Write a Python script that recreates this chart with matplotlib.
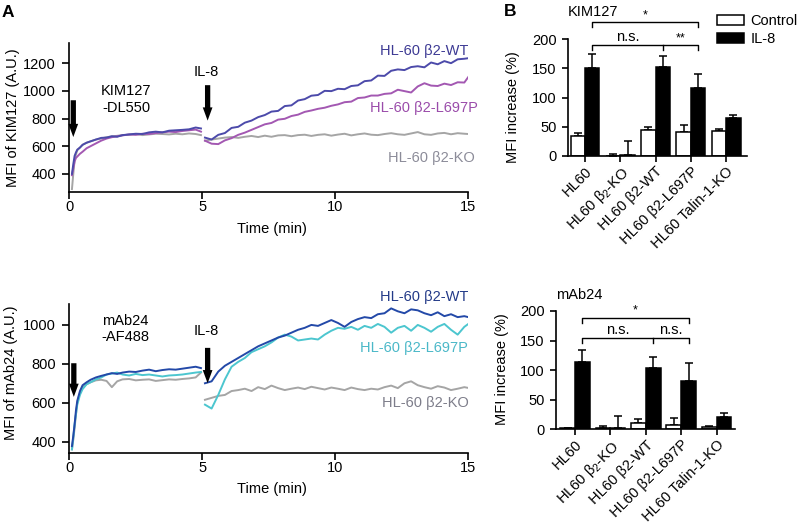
import numpy as np
import matplotlib
matplotlib.use('Agg')
import matplotlib.pyplot as plt
from matplotlib.patches import Patch

plt.rcParams['font.family'] = ['Liberation Sans', 'DejaVu Sans']
plt.rcParams['mathtext.fontset'] = 'custom'
plt.rcParams['mathtext.rm'] = 'Liberation Sans'
plt.rcParams['mathtext.it'] = 'Liberation Sans:italic'
plt.rcParams['axes.linewidth'] = 1.2

# ---- time courses (min) ----
t_pre = [0.1, 0.15, 0.2, 0.25, 0.3, 0.4, 0.5, 0.65, 0.8, 1.0, 1.2, 1.4, 1.6, 1.8,
         2.0, 2.25, 2.5, 2.75, 3.0, 3.25, 3.5, 3.75, 4.0, 4.25, 4.5, 4.75, 4.95]
t_post = [5.1, 5.35, 5.6, 5.85, 6.1, 6.35, 6.6, 6.85, 7.1, 7.35, 7.6, 7.85, 8.1, 8.35,
          8.6, 8.85, 9.1, 9.35, 9.6, 9.85, 10.1, 10.35, 10.6, 10.85, 11.1, 11.35, 11.6,
          11.85, 12.1, 12.35, 12.6, 12.85, 13.1, 13.35, 13.6, 13.85, 14.1, 14.35, 14.6,
          14.85, 15.0]

# KIM127 (top)
kim_wt_pre = [400, 470, 530, 555, 575, 590, 610, 625, 635, 648, 660, 662, 672, 668,
              680, 685, 690, 688, 700, 705, 700, 712, 715, 718, 722, 735, 728]
kim_mut_pre = [390, 440, 490, 515, 525, 545, 560, 585, 600, 620, 640, 655, 665, 672,
               678, 685, 682, 690, 688, 695, 700, 705, 702, 710, 715, 720, 705]
kim_ko_pre = [290, 400, 500, 540, 570, 590, 610, 625, 635, 648, 655, 665, 670, 675,
              680, 682, 688, 680, 685, 690, 688, 685, 690, 686, 692, 688, 680]
kim_wt_post = [662, 648, 682, 695, 732, 740, 770, 785, 810, 825, 850, 855, 890, 895,
               930, 940, 965, 970, 1000, 998, 1015, 1012, 1035, 1040, 1070, 1075, 1110,
               1108, 1145, 1155, 1150, 1172, 1178, 1170, 1205, 1192, 1215, 1200, 1228,
               1232, 1236]
kim_mut_post = [640, 618, 615, 642, 658, 682, 698, 718, 738, 758, 768, 792, 798, 818,
                828, 848, 858, 870, 878, 892, 902, 918, 922, 948, 952, 966, 966, 978,
                982, 1008, 998, 988, 1032, 1055, 1038, 1035, 1052, 1042, 1062, 1060, 1100]
kim_ko_post = [640, 648, 655, 662, 666, 660, 668, 674, 666, 676, 668, 678, 680, 672,
               680, 683, 674, 682, 686, 676, 684, 690, 678, 686, 692, 683, 680, 688,
               694, 686, 682, 692, 702, 686, 682, 692, 696, 686, 694, 690, 688]

# mAb24 (bottom)
mab_wt_pre = [377, 430, 490, 560, 610, 660, 690, 705, 718, 730, 738, 745, 752, 748,
              755, 760, 758, 765, 770, 762, 768, 772, 770, 775, 780, 785, 778]
mab_mut_pre = [360, 420, 490, 540, 590, 640, 670, 695, 705, 720, 730, 745, 750, 755,
               745, 740, 748, 742, 745, 740, 735, 740, 742, 745, 750, 755, 758]
mab_ko_pre = [360, 410, 470, 540, 600, 650, 680, 695, 705, 715, 718, 712, 680, 710,
              720, 722, 715, 718, 720, 712, 716, 720, 718, 722, 725, 730, 755]
mab_wt_post = [700, 710, 760, 790, 810, 830, 850, 870, 890, 905, 920, 935, 945, 960,
               975, 985, 1000, 995, 1010, 1025, 1010, 990, 1015, 1030, 1040, 1035, 1055,
               1060, 1085, 1070, 1060, 1080, 1075, 1060, 1050, 1065, 1045, 1055, 1040,
               1045, 1040]
mab_mut_post = [590, 570, 640, 720, 785, 810, 830, 860, 875, 890, 910, 935, 950, 940,
                920, 925, 930, 925, 950, 970, 985, 980, 990, 975, 995, 985, 1005, 990,
                960, 985, 995, 970, 1000, 985, 965, 990, 1005, 975, 950, 990, 1005]
mab_ko_post = [615, 625, 635, 640, 660, 665, 672, 660, 680, 670, 688, 675, 665, 672,
               678, 670, 682, 675, 668, 678, 672, 665, 678, 670, 665, 672, 668, 680,
               688, 675, 700, 710, 690, 680, 672, 685, 678, 665, 672, 680, 676]

# ---- bar data (% MFI increase) ----
cats = ['HL60', r'HL60 β$_2$-KO', 'HL60 β2-WT', 'HL60 β2-L697P', 'HL60 Talin-1-KO']
kim_ctrl = [35, 0.5, 44, 41, 42]
kim_ctrl_err = [4, 3.5, 5, 12, 5]
kim_il8 = [151, 1, 153, 117, 65]
kim_il8_err = [24, 25, 19, 24, 5]
mab_ctrl = [2, 1.5, 10, 8, 4]
mab_ctrl_err = [1, 4, 7, 11, 1.5]
mab_il8 = [114, 3, 104, 82, 20]
mab_il8_err = [20, 20, 19, 30, 7]

fig = plt.figure(figsize=(8, 5.29), dpi=100)


def time_panel(ax, series, labels, ylim, yticks, ylabel, ylab_x, ylab_y, note, note_pos,
               il8_pos, arrows):
    for tp, vp, tq, vq, c in series:
        ax.plot(tp, vp, color=c, lw=1.4)
        ax.plot(tq, vq, color=c, lw=1.4)
    ax.set_xlim(0, 15)
    ax.set_ylim(*ylim)
    ax.set_xticks([0, 5, 10, 15])
    ax.set_yticks(yticks)
    for s in ['top', 'right']:
        ax.spines[s].set_visible(False)
    ax.tick_params(axis='x', direction='out', length=5, width=1.2, labelsize=10.5, pad=1)
    ax.tick_params(axis='y', direction='out', length=5, width=1.2, labelsize=10.5, pad=4.5)
    ax.set_xlabel('Time (min)', fontsize=10.5)
    ax.xaxis.set_label_coords(0.507, -0.2)
    ax.set_ylabel(ylabel, fontsize=10.5)
    ax.yaxis.set_label_coords(ylab_x, ylab_y)
    for txt, x, v, c in labels:
        ax.text(x, v, txt, color=c, fontsize=10.5, ha='right', va='center',
                clip_on=False)
    ax.text(note_pos[0], note_pos[1], note, fontsize=10.5, ha='center', va='center',
            multialignment='center', linespacing=1.25)
    ax.text(il8_pos[0], il8_pos[1], 'IL-8', fontsize=10.5, ha='center', va='center')
    for t, tail, tip in arrows:
        ax.annotate('', xy=(t, tip), xytext=(t, tail), annotation_clip=False,
                    arrowprops=dict(arrowstyle='simple,head_length=0.95,head_width=0.7,tail_width=0.38',
                                    fc='black', ec='black', lw=0, shrinkA=0, shrinkB=0,
                                    mutation_scale=10))


def bar_panel(ax, ctrl, ctrl_err, il8, il8_err, w, xlim, title, title_y, ylab_x, ylab_y,
              star_y, ns_y, ns_labels):
    x = np.arange(len(cats))
    ax.bar(x - w / 2, ctrl, w, color='white', edgecolor='black', lw=1.1, zorder=2)
    ax.bar(x + w / 2, il8, w, color='black', edgecolor='black', lw=1.1, zorder=2)
    ax.errorbar(x - w / 2, ctrl, yerr=[np.zeros(len(x)), ctrl_err], fmt='none',
                ecolor='black', elinewidth=1.1, capsize=3, capthick=1.1, zorder=1)
    ax.errorbar(x + w / 2, il8, yerr=[np.zeros(len(x)), il8_err], fmt='none',
                ecolor='black', elinewidth=1.1, capsize=3, capthick=1.1, zorder=1)
    ax.set_xlim(*xlim)
    ax.set_ylim(0, 200)
    ax.set_yticks([0, 50, 100, 150, 200])
    ax.set_xticks(x)
    ax.set_xticklabels(cats, rotation=45, ha='right', rotation_mode='anchor',
                       fontsize=10.5)
    for s in ['top', 'right']:
        ax.spines[s].set_visible(False)
    ax.tick_params(direction='out', length=4, width=1.2, labelsize=10.5, pad=2)
    ax.tick_params(axis='y', pad=4)
    ax.set_ylabel('MFI increase (%)', fontsize=10.5)
    ax.yaxis.set_label_coords(ylab_x, ylab_y)
    ax.text(0.0, title_y, title, transform=ax.transAxes, fontsize=10.5, va='center')
    # significance brackets (between IL-8 bars)
    xa, xb, xc = 0 + w / 2, 2 + w / 2, 3 + w / 2
    d = 8.5
    ax.plot([xa, xa, xc, xc], [star_y - d, star_y, star_y, star_y - d], color='black',
            lw=1.0, clip_on=False)
    ax.text((xa + xc) / 2, star_y + 2, '*', ha='center', va='bottom', fontsize=9)
    ax.plot([xa, xa, xc, xc], [ns_y - d, ns_y, ns_y, ns_y - d], color='black', lw=1.0,
            clip_on=False)
    ax.plot([xb, xb], [ns_y, ns_y - d], color='black', lw=1.0, clip_on=False)
    ax.text((xa + xb) / 2, ns_y + 2, ns_labels[0], ha='center', va='bottom',
            fontsize=10.5)
    ax.text((xb + xc) / 2, ns_y + 2, ns_labels[1], ha='center', va='bottom',
            fontsize=10.5 if ns_labels[1] == 'n.s.' else 9)


grey = '#a5a5a5'

# A top: KIM127
ax1 = fig.add_axes([69.3 / 800, 1 - 191.7 / 529, 399 / 800, 149 / 529])
time_panel(ax1,
           [(t_pre, kim_ko_pre, t_post, kim_ko_post, grey),
            (t_pre, kim_mut_pre, t_post, kim_mut_post, '#a358b2'),
            (t_pre, kim_wt_pre, t_post, kim_wt_post, '#4c4aaa')],
           [('HL-60 β2-WT', 15.0, 1285, '#3d3a94'),
            ('HL-60 β2-L697P', 15.35, 874, '#9a4caa'),
            ('HL-60 β2-KO', 15.25, 518, '#8c8c99')],
           (271, 1348), [400, 600, 800, 1000, 1200], 'MFI of KIM127 (A.U.)',
           -0.124, 0.5, 'KIM127\n-DL550', (2.15, 940), (5.13, 1133),
           [(0.15, 932, 666), (5.2, 1041, 785)])

# A bottom: mAb24
ax2 = fig.add_axes([69.3 / 800, 1 - 452.7 / 529, 399 / 800, 148.4 / 529])
time_panel(ax2,
           [(t_pre, mab_ko_pre, t_post, mab_ko_post, grey),
            (t_pre, mab_mut_pre, t_post, mab_mut_post, '#4cc6cf'),
            (t_pre, mab_wt_pre, t_post, mab_wt_post, '#2349a8')],
           [('HL-60 β2-WT', 15.0, 1144, '#233a88'),
            ('HL-60 β2-L697P', 15.0, 879, '#4bb8c8'),
            ('HL-60 β2-KO', 15.0, 598, '#7d7d8a')],
           (343, 1106), [400, 600, 800, 1000], 'MFI of mAb24 (A.U.)',
           -0.128, 0.537, 'mAb24\n-AF488', (2.1, 979), (5.15, 968),
           [(0.17, 803, 630), (5.2, 882, 700)])

# B top: KIM127 bars
ax3 = fig.add_axes([567.7 / 800, 1 - 156 / 529, 179 / 800, 116.7 / 529])
bar_panel(ax3, kim_ctrl, kim_ctrl_err, kim_il8, kim_il8_err, 0.41, (-0.49, 4.58),
          'KIM127', 1.234, -0.266, 0.42, 229, 190, ['n.s.', '**'])

# B bottom: mAb24 bars
ax4 = fig.add_axes([555.7 / 800, 1 - 429.3 / 529, 179.3 / 800, 118.3 / 529])
bar_panel(ax4, mab_ctrl, mab_ctrl_err, mab_il8, mab_il8_err, 0.42, (-0.545, 4.52),
          'mAb24', 1.135, -0.26, 0.51, 189, 154, ['n.s.', 'n.s.'])

fig.legend(handles=[Patch(facecolor='white', edgecolor='black', lw=1.1, label='Control'),
                    Patch(facecolor='black', edgecolor='black', lw=1.1, label='IL-8')],
           loc='upper left', bbox_to_anchor=(717 / 800, 1 - 14 / 529), frameon=False,
           fontsize=10.5, handlelength=1.85, handleheight=0.7, handletextpad=0.45,
           labelspacing=0.3, borderpad=0, borderaxespad=0)

fig.text(2 / 800, 1 - 5 / 529, 'A', fontsize=12.5, fontweight='bold', va='top')
fig.text(504 / 800, 1 - 4 / 529, 'B', fontsize=12.5, fontweight='bold', va='top')

fig.savefig('out.png', dpi=100)
